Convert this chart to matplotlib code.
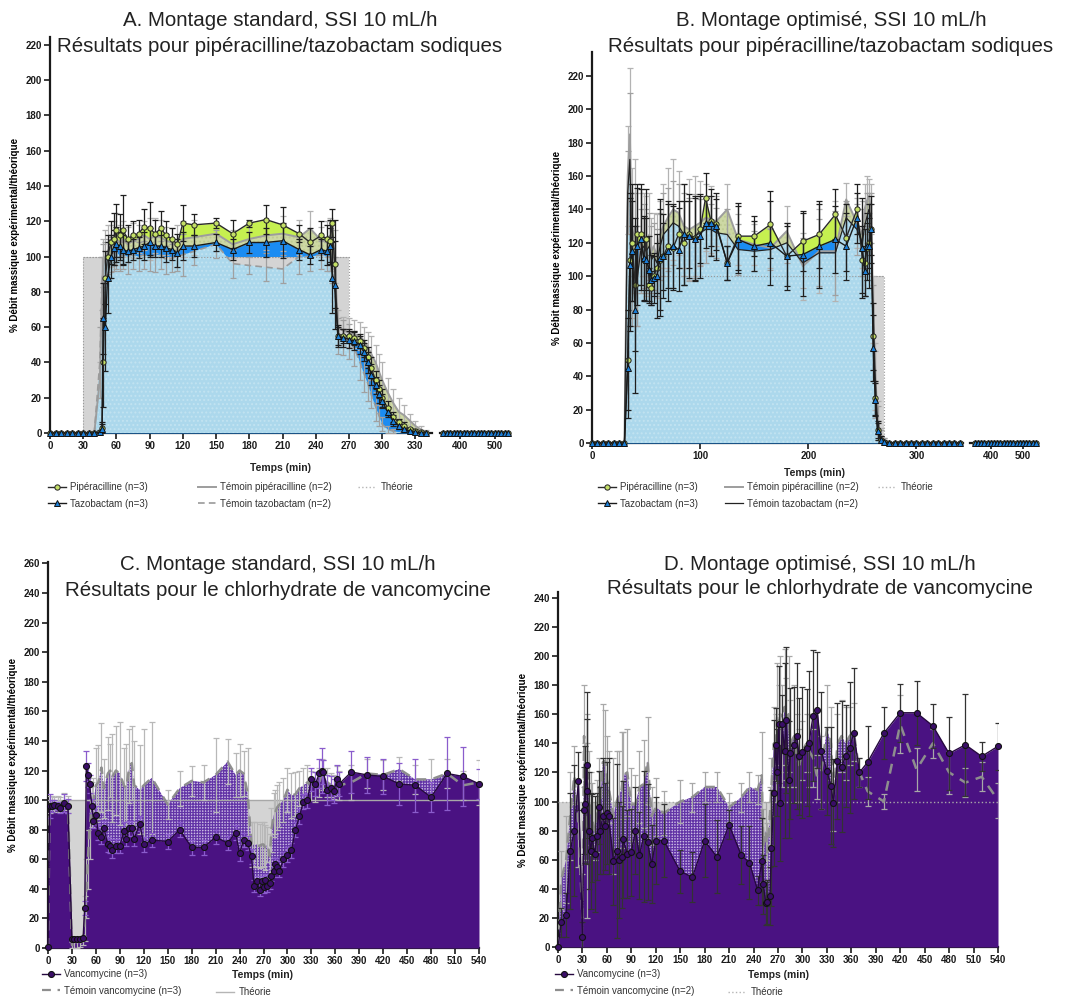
import numpy as np
import matplotlib
matplotlib.use('Agg')
import matplotlib.pyplot as plt
from matplotlib.lines import Line2D

plt.rcParams['font.family'] = ['Liberation Sans', 'DejaVu Sans']
plt.rcParams['hatch.linewidth'] = 0.9

# ---------------- Panel A data (standard set-up, pip/tazo) ----------------
tA = [0, 5, 10, 15, 20, 25, 30, 35, 40,
      45, 47, 48, 50, 52, 55, 58,
      60, 63, 66, 70, 75, 80, 85, 90, 95, 100, 105, 110, 115, 120,
      130, 150, 165, 180, 195, 210, 225, 235, 245, 250, 253, 255, 257,
      260, 265, 270, 275, 280, 284, 287, 290, 294, 297, 300,
      305, 310, 315, 320, 325, 330, 335, 340]
pipA = [0]*9 + [0.5, 3, 40, 88, 100, 108, 110] + \
       [115, 112, 115, 110, 112, 113, 117, 116, 113, 116, 112, 110, 107, 119] + \
       [118, 119, 113, 119, 121, 118, 113, 108, 112, 110, 109, 119, 96] + \
       [55, 55, 55, 54, 52, 48, 43, 37, 30, 25, 20] + [14, 9, 6, 4, 2, 1, 0.5, 0]
pipA_err = [0]*9 + [1, 3, 25, 15, 12, 12, 15] + \
       [15, 12, 20, 8, 8, 8, 10, 15, 8, 10, 8, 6, 6, 10] + \
       [6, 3, 8, 2, 8, 10, 5, 8, 8, 8, 12, 8, 25] + \
       [5, 4, 4, 4, 4, 5, 6, 6, 5, 5, 5] + [4, 3, 2, 2, 1, 1, 0.5, 0]
tazA = [0]*9 + [0.3, 2, 65, 60, 88, 100, 105] + \
       [107, 106, 104, 103, 104, 105, 106, 108, 106, 106, 105, 104, 102, 106] + \
       [106, 108, 104, 108, 108, 109, 104, 101, 104, 103, 106, 88, 84] + \
       [55, 54, 53, 52, 50, 46, 40, 33, 27, 22, 18] + [12, 7, 4, 2, 1, 0.5, 0.2, 0]
tazA_err = [0]*9 + [1, 3, 20, 25, 20, 12, 10] + \
       [10, 8, 8, 6, 6, 6, 8, 8, 6, 6, 8, 6, 8, 8] + \
       [6, 5, 6, 6, 8, 10, 6, 5, 6, 8, 10, 20, 25] + \
       [6, 5, 5, 5, 5, 5, 6, 6, 5, 5, 4] + [3, 3, 2, 1, 1, 0.5, 0, 0]
tpipA = [0]*9 + [30, 80, 95, 100, 103, 106, 108] + \
       [110, 108, 110, 107, 109, 110, 112, 110, 112, 111, 109, 108, 106, 110] + \
       [111, 113, 107, 110, 112, 113, 111, 116, 109, 110, 112, 110, 100] + \
       [60, 58, 57, 56, 55, 52, 49, 45, 40, 35, 30] + [23, 17, 12, 10, 7, 4, 2, 0.5]
tpipA_err = [0]*9 + [10, 20, 15, 15, 15, 12, 12] + \
       [15, 10, 10, 10, 10, 8, 8, 12, 10, 10, 8, 8, 12, 10] + \
       [10, 5, 8, 8, 8, 10, 10, 10, 8, 10, 10, 10, 15] + \
       [10, 8, 8, 8, 8, 8, 8, 10, 10, 10, 10] + [8, 8, 8, 6, 4, 3, 2, 1]
ttazA = [0]*9 + [40, 85, 95, 98, 100, 101, 102] + \
       [103, 100, 101, 100, 101, 100, 101, 100, 101, 101, 98, 99, 100, 101] + \
       [103, 107, 96, 95, 94, 93, 100, 100, 101, 100, 100, 95, 85] + \
       [55, 54, 52, 48, 40, 33, 28, 22, 15, 10, 5] + [2, 1, 0.5, 0.2, 0, 0, 0, 0]
ttazA_err = [0]*9 + [20, 15, 12, 10, 10, 10, 10] + \
       [10, 8, 8, 10, 8, 8, 8, 8, 10, 8, 8, 8, 8, 12] + \
       [8, 8, 8, 5, 8, 8, 10, 8, 8, 8, 8, 10, 15] + \
       [10, 10, 10, 10, 10, 10, 10, 8, 8, 6, 4] + [2, 1, 0, 0, 0, 0, 0, 0]
theoA = (30, 270)

# ---------------- Panel B data (optimised set-up, pip/tazo) ----------------
tB = [0, 5, 10, 15, 20, 25, 30,
      33, 35, 37, 40, 42, 45, 48, 50, 53, 55, 57,
      60, 63, 66, 70, 75, 80, 85, 90, 95, 100,
      105, 110, 115, 125, 135, 150, 165, 180, 195, 210, 225, 235, 245,
      250, 252, 254, 256, 258, 260, 262, 264, 267, 270,
      275, 280, 285, 290, 295, 300, 305, 310, 315, 320, 325, 330, 335, 340]
pipB = [0]*7 + [50, 110, 120, 95, 125, 125, 110, 122, 95, 93, 100] + \
       [105, 110, 112, 118, 117, 125, 120, 125, 123, 128] + \
       [147, 133, 131, 108, 124, 124, 131, 112, 121, 125, 137, 123, 140] + \
       [110, 108, 117, 120, 128, 64, 27, 8, 2, 0.5] + [0]*14
pipB_err = [0]*7 + [30, 40, 35, 40, 30, 30, 25, 30, 10, 10, 12] + \
       [15, 30, 20, 25, 25, 20, 25, 20, 25, 20] + \
       [15, 15, 15, 10, 20, 12, 20, 18, 18, 20, 15, 20, 15] + \
       [20, 20, 15, 15, 15, 20, 10, 5, 2, 1] + [0]*14
tazB = [0]*7 + [45, 107, 115, 80, 118, 122, 111, 110, 104, 98, 99] + \
       [100, 111, 112, 115, 118, 116, 125, 124, 122, 124] + \
       [132, 132, 130, 108, 122, 118, 120, 112, 113, 118, 122, 118, 135] + \
       [117, 103, 118, 118, 128, 57, 26, 7, 2, 0.3] + [0]*14
tazB_err = [0]*7 + [30, 40, 30, 50, 35, 30, 25, 25, 20, 15, 15] + \
       [25, 35, 25, 30, 25, 25, 30, 25, 25, 25] + \
       [15, 20, 20, 10, 20, 15, 25, 20, 25, 25, 20, 20, 15] + \
       [30, 15, 20, 25, 20, 20, 10, 5, 2, 1] + [0]*14
tpipB = [0]*7 + [160, 185, 120, 130, 100, 120, 125, 118, 125, 115, 118] + \
       [112, 125, 130, 135, 140, 138, 130, 128, 130, 132] + \
       [135, 134, 133, 140, 122, 119, 117, 127, 106, 115, 115, 146, 132] + \
       [125, 140, 145, 148, 140, 80, 40, 15, 4, 1] + [0]*14
tpipB_err = [0]*7 + [30, 40, 45, 40, 30, 30, 25, 30, 25, 20, 20] + \
       [25, 20, 25, 30, 30, 25, 25, 30, 30, 25] + \
       [20, 20, 15, 15, 15, 12, 12, 15, 20, 25, 30, 10, 15] + \
       [20, 15, 15, 10, 15, 20, 20, 10, 5, 2] + [0]*14
ttazB = [0]*7 + [150, 170, 110, 115, 100, 115, 118, 115, 118, 110, 112] + \
       [108, 118, 125, 128, 132, 130, 125, 122, 124, 126] + \
       [128, 128, 126, 125, 116, 115, 116, 120, 108, 114, 114, 135, 128] + \
       [120, 130, 135, 140, 135, 75, 35, 12, 3, 1] + [0]*14
ttazB_err = [0]*7 + [25, 40, 40, 35, 30, 25, 25, 25, 20, 20, 20] + \
       [20, 20, 25, 25, 25, 25, 25, 25, 25, 20] + \
       [20, 15, 15, 15, 15, 12, 12, 12, 15, 20, 25, 10, 15] + \
       [20, 15, 15, 10, 15, 20, 20, 10, 5, 2] + [0]*14
theoB = (33, 270)

# late (broken-axis) sampling times, all values 0
t_late = [350, 360, 370, 380, 390, 400, 410, 420, 430, 440,
          450, 460, 470, 480, 490, 500, 510, 520, 530, 540]

# ---------------- Panel C data (standard set-up, vancomycin) ----------------
tC = [0, 2, 5, 8, 12, 15, 20, 25, 30, 33,
      36, 40, 44, 46, 48, 50, 52, 55, 57, 60,
      63, 67, 70, 75, 78, 80, 85, 90, 95, 98,
      102, 105, 108, 115, 120, 130, 150, 165, 180, 195,
      210, 225, 235, 240, 245, 250, 255, 258, 262, 265,
      268, 270, 272, 275, 278, 280, 283, 285, 287, 290,
      295, 300, 305, 310, 315, 320, 325, 330, 335, 340,
      343, 345, 350, 355, 358, 362, 365, 380, 400, 420,
      440, 460, 480, 500, 520, 540]
vanC = [0.5, 96, 96, 97, 96, 95, 98, 96, 6, 6,
        6, 6, 7, 27, 123, 117, 111, 96, 86, 90,
        78, 75, 81, 70, 69, 66, 69, 69, 79, 74,
        81, 81, 74, 84, 70, 73, 72, 80, 68, 68,
        75, 71, 78, 64, 73, 71, 62, 42, 45, 39,
        45, 41, 46, 42, 44, 49, 52, 57, 55, 52,
        60, 63, 66, 80, 89, 99, 100, 114, 111, 118,
        120, 119, 107, 108, 106, 114, 111, 119, 117, 116,
        111, 110, 102, 118, 116, 111]
vanC_err = [0, 8, 4, 3, 3, 4, 6, 5, 1, 1,
            1, 1, 1, 5, 10, 8, 6, 5, 5, 6,
            5, 5, 5, 5, 5, 5, 5, 5, 6, 5,
            5, 5, 5, 5, 5, 5, 5, 5, 5, 5,
            5, 5, 5, 5, 5, 5, 5, 4, 4, 4,
            4, 4, 4, 4, 4, 4, 4, 4, 4, 4,
            5, 5, 5, 5, 5, 5, 5, 8, 8, 10,
            15, 8, 10, 8, 8, 10, 8, 14, 12, 12,
            14, 18, 10, 25, 20, 10]
temC = [0, 97, 98, 97, 98, 97, 99, 97, 2, 2,
        2, 3, 5, 20, 40, 60, 80, 97, 100, 110,
        112, 122, 108, 118, 120, 115, 120, 118, 110, 108,
        123, 125, 110, 107, 110, 115, 97, 108, 113, 112,
        117, 126, 117, 120, 118, 105, 70, 70, 70, 69,
        70, 70, 68, 70, 62, 80, 90, 92, 95, 97,
        100, 107, 103, 104, 108, 110, 112, 110, 109, 112,
        118, 117, 112, 110, 109, 113, 110, 112, 118, 117,
        121, 114, 114, 118, 110, 112]
temC_err = [0, 6, 5, 5, 5, 5, 6, 6, 2, 2,
            2, 2, 3, 15, 20, 20, 20, 15, 15, 25,
            25, 30, 20, 25, 18, 30, 30, 35, 25, 30,
            25, 25, 30, 30, 38, 38, 10, 12, 10, 12,
            25, 15, 15, 18, 15, 30, 15, 15, 15, 15,
            15, 15, 15, 12, 15, 15, 15, 15, 15, 15,
            15, 15, 15, 15, 12, 12, 12, 10, 10, 10,
            10, 10, 10, 8, 8, 10, 10, 12, 10, 10,
            8, 10, 14, 10, 10, 15]
theoC = (0, 540)

# ---------------- Panel D data (optimised set-up, vancomycin) ----------------
tD = [0, 4, 10, 15, 20, 25, 30, 32, 33, 35,
      36, 38, 40, 42, 45, 48, 50, 52, 55, 58,
      60, 62, 68, 72, 75, 78, 80, 85, 90, 95,
      100, 105, 110, 115, 120, 130, 150, 165, 180, 195,
      210, 225, 235, 245, 250, 252, 255, 257, 260, 262,
      265, 267, 269, 271, 273, 275, 278, 280, 283, 285,
      290, 293, 296, 300, 305, 308, 313, 318, 323, 330,
      335, 338, 343, 348, 353, 358, 363, 370, 380, 400,
      420, 440, 460, 480, 500, 520, 540]
vanD = [0, 17, 22, 66, 80, 114, 7, 94, 98, 125,
        107, 80, 66, 75, 64, 76, 96, 80, 90, 83,
        92, 90, 59, 66, 60, 62, 74, 64, 65, 80,
        63, 76, 72, 57, 73, 73, 52, 48, 73, 62,
        84, 63, 58, 39, 59, 43, 30, 31, 35, 68,
        106, 139, 120, 153, 99, 153, 135, 156, 115, 133,
        139, 145, 131, 134, 137, 140, 159, 163, 135, 121,
        111, 99, 128, 124, 131, 137, 147, 120, 127, 147,
        161, 161, 152, 133, 139, 131, 138]
vanD_err = [0, 10, 15, 40, 45, 20, 10, 30, 40, 50,
            50, 40, 40, 30, 40, 30, 25, 30, 40, 30,
            35, 40, 30, 60, 40, 35, 40, 30, 30, 30,
            30, 45, 40, 27, 30, 25, 15, 17, 25, 25,
            10, 20, 25, 10, 30, 20, 15, 15, 20, 40,
            50, 25, 30, 40, 40, 20, 60, 50, 40, 45,
            40, 50, 40, 45, 40, 50, 45, 40, 40, 30,
            40, 30, 40, 45, 35, 45, 45, 10, 25, 18,
            20, 22, 15, 25, 35, 10, 16]
temD = [0, 46, 60, 90, 118, 85, 20, 145, 100, 80,
        120, 105, 95, 88, 80, 90, 110, 100, 127, 128,
        115, 110, 90, 100, 105, 108, 118, 120, 98, 98,
        110, 112, 128, 90, 96, 92, 100, 103, 110, 110,
        96, 103, 110, 108, 118, 70, 80, 65, 90, 110,
        140, 130, 160, 150, 160, 145, 165, 150, 160, 140,
        145, 130, 125, 135, 140, 135, 130, 117, 120, 150,
        140, 100, 140, 145, 140, 145, 148, 120, 107, 100,
        153, 122, 140, 120, 113, 117, 101]
temD_err = [0, 20, 30, 30, 20, 30, 30, 35, 40, 60,
            40, 30, 25, 25, 20, 25, 20, 20, 40, 35,
            30, 25, 40, 35, 30, 40, 30, 30, 25, 20,
            25, 30, 30, 20, 20, 15, 15, 10, 10, 10,
            10, 10, 10, 10, 30, 25, 20, 20, 20, 20,
            25, 30, 35, 30, 40, 35, 40, 35, 40, 30,
            35, 30, 25, 20, 20, 25, 20, 15, 25, 30,
            25, 20, 20, 25, 25, 20, 20, 10, 10, 5,
            20, 15, 10, 15, 10, 10, 12]
theoD = (0, 265)
THEO = 100

# ---------------- colours ----------------
C_PIP = '#c6f050'
C_PIP_M = '#c4df66'
C_TPIP = '#cdd8a4'
C_TPIP_H = '#bfcb93'
C_TAZ = '#1b8cf2'
C_TAZ_M = '#1c7fd8'
C_TTAZ = '#acd8ec'
C_TTAZ_H = '#c2e3f1'
C_THEO = '#d4d4d4'
C_VAN = '#4a1282'
C_VAN_M = '#3a0d68'
C_TEMV = '#cbbbe4'
C_TEMV_H = '#6234a6'

W, H = 1076, 1000
fig = plt.figure(figsize=(W / 100, H / 100), dpi=100)
TFS = 14.8


def ax_rect(x0, y_bottom, x1, y_top):
    return [x0 / W, (H - y_bottom) / H, (x1 - x0) / W, (y_bottom - y_top) / H]


def style(ax, left=True):
    ax.set_facecolor('none')
    for s in ['top', 'right']:
        ax.spines[s].set_visible(False)
    for s in ['bottom', 'left']:
        ax.spines[s].set_linewidth(1.6)
        ax.spines[s].set_color('#1a1a1a')
    ax.tick_params(axis='both', direction='out', length=4, width=1.2,
                   labelsize=7, pad=2, colors='#1a1a1a')
    if not left:
        ax.spines['left'].set_visible(False)
        ax.tick_params(axis='y', left=False, labelleft=False)
    for lab in ax.get_xticklabels() + ax.get_yticklabels():
        lab.set_fontweight('bold')


def ebar(ax, t, v, e, color, z):
    t = np.asarray(t, float); v = np.asarray(v, float); e = np.asarray(e, float)
    m = e > 0
    ax.errorbar(t[m], v[m], yerr=e[m], fmt='none', ecolor=color, elinewidth=0.9,
                capsize=2.3, capthick=0.9, zorder=z)


def draw_pt(ax, axb, t, pip, pe, taz, te, tpip, tpe, ttaz, tte, theo, ttaz_kw):
    t = np.asarray(t, float)
    ax.fill_between(t, 0, pip, color=C_PIP, lw=0, zorder=1)
    ax.fill_between(t, 0, tpip, facecolor=C_TPIP, edgecolor=C_TPIP_H, hatch='....', lw=0, zorder=2)
    ax.fill_between(t, 0, taz, color=C_TAZ, lw=0, zorder=3)
    ax.fill_between(list(theo), 0, THEO, color=C_THEO, lw=0, zorder=4)
    ax.plot([theo[0], theo[0], theo[1], theo[1]], [0, THEO, THEO, 0], ls=':', color='#9a9a9a',
            lw=0.8, zorder=4.5)
    ax.fill_between(t, 0, ttaz, facecolor=C_TTAZ, edgecolor=C_TTAZ_H, hatch='....', lw=0, zorder=5)
    ax.plot([theo[0], theo[1]], [THEO, THEO], ls=':', color='#9a9a9a', lw=0.8, zorder=5.5)
    ebar(ax, t, tpip, tpe, '#b3b3b3', 6)
    ebar(ax, t, ttaz, tte, '#a0a0a0', 6)
    ax.plot(t, tpip, color='#9d9d9d', lw=1.4, zorder=6.5)
    ax.plot(t, ttaz, zorder=6.5, **ttaz_kw)
    ebar(ax, t, pip, pe, '#1f1f1f', 7)
    ebar(ax, t, taz, te, '#1f1f1f', 7)
    ax.plot(t, pip, color='#2a2a2a', lw=1.0, marker='o', ms=3.8, mfc=C_PIP_M, mec='#222',
            mew=0.7, zorder=8, clip_on=False)
    ax.plot(t, taz, color='#1a1a1a', lw=1.0, marker='^', ms=4.2, mfc=C_TAZ_M, mec='#111',
            mew=0.7, zorder=9, clip_on=False)
    z = np.zeros(len(t_late))
    axb.plot(t_late, z, color='#9d9d9d', lw=1.4, zorder=2, clip_on=False)
    axb.plot(t_late, z, color='#2a2a2a', lw=1.0, marker='o', ms=3.8, mfc=C_PIP_M, mec='#222',
             mew=0.7, zorder=3, clip_on=False)
    axb.plot(t_late, z, color='#1a1a1a', lw=1.0, marker='^', ms=4.2, mfc=C_TAZ_M, mec='#111',
             mew=0.7, zorder=4, clip_on=False)


def draw_v(ax, t, v, ve, tm, tme, theo, theo_ls, v_ecol, tm_ecol):
    ax.fill_between(list(theo), 0, THEO, color=C_THEO, lw=0, zorder=1)
    ax.fill_between(t, 0, tm, facecolor=C_TEMV, edgecolor=C_TEMV_H, hatch='++++++', lw=0, zorder=2)
    ax.fill_between(t, 0, v, color=C_VAN, lw=0, zorder=3)
    ax.plot([0, 540], [THEO, THEO], color='#a8a8a8', lw=1.0, ls=theo_ls, zorder=4)
    ebar(ax, t, tm, tme, tm_ecol, 5)
    ax.plot(t, tm, color='#8e8e8e', lw=1.8, dashes=(4, 3), zorder=5.5)
    ebar(ax, t, v, ve, v_ecol, 6)
    ax.plot(t, v, color='#26093f', lw=1.0, marker='o', ms=4.3, mfc=C_VAN_M, mec='#111',
            mew=0.8, zorder=7, clip_on=False)


def col_legend(handles, labels, x_px, y_px):
    fig.legend(handles, labels, loc='upper left', bbox_to_anchor=(x_px / W, 1 - y_px / H),
               frameon=False, fontsize=7, handlelength=1.8, handletextpad=0.5,
               labelspacing=0.7, borderpad=0, borderaxespad=0,
               labelcolor='#333333')


h_pip = Line2D([], [], color='#2a2a2a', lw=1.0, marker='o', ms=3.8, mfc=C_PIP_M, mec='#222', mew=0.7)
h_taz = Line2D([], [], color='#1a1a1a', lw=1.0, marker='^', ms=4.2, mfc=C_TAZ_M, mec='#111', mew=0.7)
h_tpip = Line2D([], [], color='#9d9d9d', lw=1.4)
h_theo_dot = Line2D([], [], color='#b5b5b5', lw=1.0, ls=':')
h_theo_sol = Line2D([], [], color='#b5b5b5', lw=1.0)
h_van = Line2D([], [], color='#26093f', lw=1.0, marker='o', ms=4.3, mfc=C_VAN_M, mec='#111', mew=0.8)
h_temv = Line2D([], [], color='#8e8e8e', lw=1.6, dashes=(4, 3))

YLAB = '% Débit massique expérimental/théorique'

# ================= Panel A =================
axA = fig.add_axes(ax_rect(50, 433, 432, 37))
axAb = fig.add_axes(ax_rect(440, 433, 510, 37))
ttazA_kw = dict(color='#9a9a9a', lw=1.2, dashes=(4, 2.5))
draw_pt(axA, axAb, tA, pipA, pipA_err, tazA, tazA_err, tpipA, tpipA_err, ttazA, ttazA_err,
        theoA, ttazA_kw)
axA.set_xlim(0, 345); axA.set_ylim(0, 224.5)
axA.set_xticks(range(0, 331, 30)); axA.set_yticks(range(0, 221, 20))
axAb.set_xlim(340, 545); axAb.set_ylim(0, 224.5)
axAb.set_xticks([400, 500])
axA.set_ylabel(YLAB, fontsize=7, fontweight='bold', labelpad=4)
style(axA); style(axAb, left=False)
fig.text(280 / W, 1 - 20 / H, 'A. Montage standard, SSI 10 mL/h', ha='center', va='center',
         fontsize=TFS, color='#222')
fig.text(280 / W, 1 - 46 / H, 'Résultats pour pipéracilline/tazobactam sodiques', ha='center',
         va='center', fontsize=TFS, color='#222')
fig.text(280 / W, 1 - 468 / H, 'Temps (min)', ha='center', va='center', fontsize=7.5,
         fontweight='bold', color='#222')
col_legend([h_pip, h_taz], ['Pipéracilline (n=3)', 'Tazobactam (n=3)'], 48, 482)
col_legend([h_tpip, Line2D([], [], **ttazA_kw)], ['Témoin pipéracilline (n=2)', 'Témoin tazobactam (n=2)'], 198, 482)
col_legend([h_theo_dot], ['Théorie'], 358, 482)

# ================= Panel B =================
axB = fig.add_axes(ax_rect(592, 443, 963, 52))
axBb = fig.add_axes(ax_rect(970, 443, 1038, 52))
ttazB_kw = dict(color='#222222', lw=0.9)
draw_pt(axB, axBb, tB, pipB, pipB_err, tazB, tazB_err, tpipB, tpipB_err, ttazB, ttazB_err,
        theoB, ttazB_kw)
axB.set_xlim(0, 343); axB.set_ylim(0, 234.4)
axB.set_xticks([0, 100, 200, 300]); axB.set_yticks(range(0, 221, 20))
axBb.set_xlim(335, 547); axBb.set_ylim(0, 234.4)
axBb.set_xticks([400, 500])
axB.set_ylabel(YLAB, fontsize=7, fontweight='bold', labelpad=4)
style(axB); style(axBb, left=False)
fig.text(831 / W, 1 - 20 / H, 'B. Montage optimisé, SSI 10 mL/h', ha='center', va='center',
         fontsize=TFS, color='#222')
fig.text(831 / W, 1 - 46 / H, 'Résultats pour pipéracilline/tazobactam sodiques', ha='center',
         va='center', fontsize=TFS, color='#222')
fig.text(815 / W, 1 - 473 / H, 'Temps (min)', ha='center', va='center', fontsize=7.5,
         fontweight='bold', color='#222')
col_legend([h_pip, h_taz], ['Pipéracilline (n=3)', 'Tazobactam (n=3)'], 598, 482)
col_legend([h_tpip, Line2D([], [], **ttazB_kw)], ['Témoin pipéracilline (n=2)', 'Témoin tazobactam (n=2)'], 725, 482)
col_legend([h_theo_dot], ['Théorie'], 878, 482)

# ================= Panel C =================
axC = fig.add_axes(ax_rect(48, 948, 479, 562))
draw_v(axC, tC, vanC, vanC_err, temC, temC_err, theoC, '-', '#8a5ccc', '#b8b8b8')
axC.set_xlim(0, 540); axC.set_ylim(0, 261)
axC.set_xticks(range(0, 541, 30)); axC.set_yticks(range(0, 261, 20))
axC.set_ylabel(YLAB, fontsize=7, fontweight='bold', labelpad=4)
style(axC)
fig.text(278 / W, 1 - 565 / H, 'C. Montage standard, SSI 10 mL/h', ha='center', va='center',
         fontsize=TFS, color='#222')
fig.text(278 / W, 1 - 591 / H, 'Résultats pour le chlorhydrate de vancomycine', ha='center',
         va='center', fontsize=TFS, color='#222')
fig.text(263 / W, 1 - 975 / H, 'Temps (min)', ha='center', va='center', fontsize=7.5,
         fontweight='bold', color='#222')
col_legend([h_van, h_temv], ['Vancomycine (n=3)', 'Témoin vancomycine (n=3)'], 42, 969)
col_legend([h_theo_sol], ['Théorie'], 216, 987)

# ================= Panel D =================
axD = fig.add_axes(ax_rect(558, 947, 998, 592))
draw_v(axD, tD, vanD, vanD_err, temD, temD_err, theoD, ':', '#333333', '#a8a8a8')
axD.set_xlim(0, 540); axD.set_ylim(0, 244)
axD.set_xticks(range(0, 541, 30)); axD.set_yticks(range(0, 241, 20))
axD.set_ylabel(YLAB, fontsize=7, fontweight='bold', labelpad=4)
style(axD)
fig.text(820 / W, 1 - 564 / H, 'D. Montage optimisé, SSI 10 mL/h', ha='center', va='center',
         fontsize=TFS, color='#222')
fig.text(820 / W, 1 - 589 / H, 'Résultats pour le chlorhydrate de vancomycine', ha='center',
         va='center', fontsize=TFS, color='#222')
fig.text(778 / W, 1 - 975 / H, 'Temps (min)', ha='center', va='center', fontsize=7.5,
         fontweight='bold', color='#222')
col_legend([h_van, h_temv], ['Vancomycine (n=3)', 'Témoin vancomycine (n=2)'], 555, 969)
col_legend([h_theo_dot], ['Théorie'], 728, 987)

fig.savefig('out.png', dpi=100)
